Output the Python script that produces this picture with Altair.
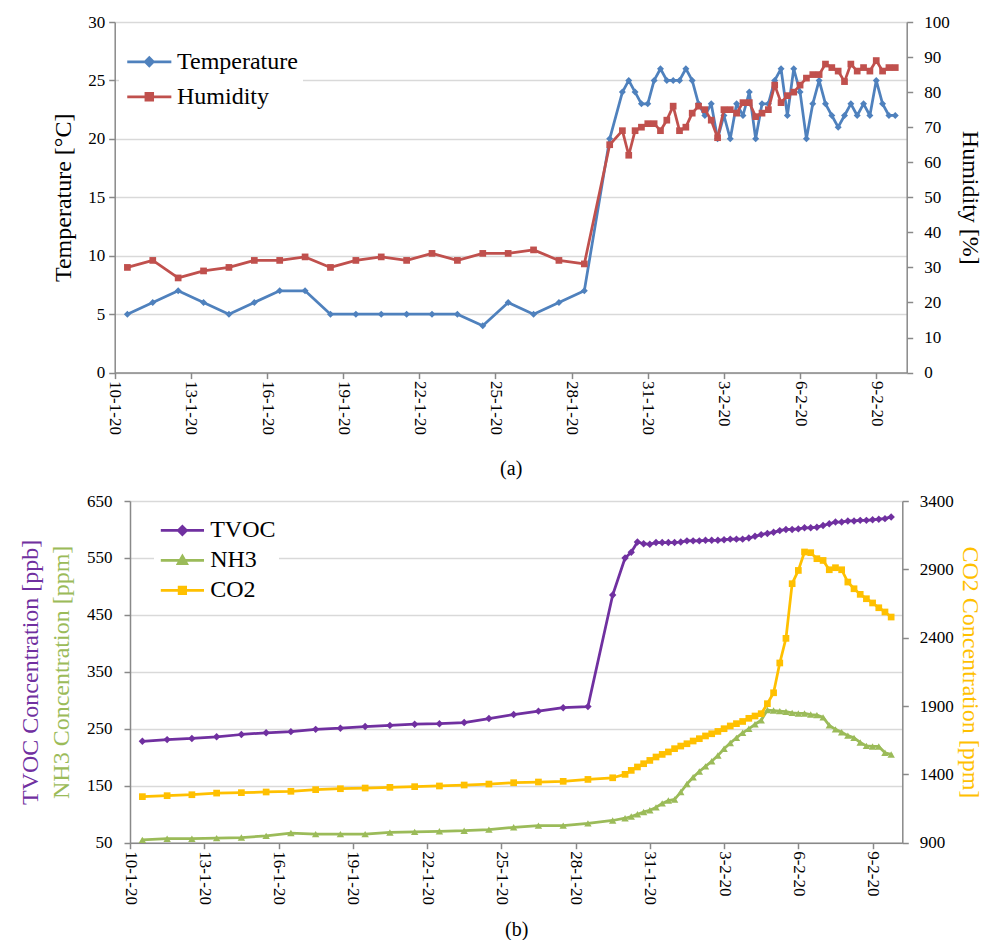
import altair as alt
import pandas as pd

# ---------------- data ----------------
tick_days = [0, 3, 6, 9, 12, 15, 18, 21, 24, 27, 30]
tick_labels = ["10-1-20", "13-1-20", "16-1-20", "19-1-20", "22-1-20", "25-1-20",
               "28-1-20", "31-1-20", "3-2-20", "6-2-20", "9-2-20"]

# sampling times: daily at noon 10-1 .. 28-1, then 29-1 12:00, then every 6 h from 30-1
early_times = list(pd.date_range("2020-01-10 12:00", periods=19, freq="D"))
late_times = [pd.Timestamp("2020-01-29 12:00")] + list(pd.date_range("2020-01-30 00:00", periods=44, freq="6h"))
t0 = pd.Timestamp("2020-01-10")
days = [(t - t0) / pd.Timedelta(days=1) for t in early_times + late_times]

temperature_early = [5, 6, 7, 6, 5, 6, 7, 7, 5, 5, 5, 5, 5, 5, 4, 6, 5, 6, 7]
temperature_late = [20, 24, 25, 24, 23, 23, 25, 26, 25, 25, 25, 26, 25, 23, 22, 23, 20, 22, 20, 23,
                    22, 24, 20, 23, 23, 25, 26, 22, 26, 24, 20, 23, 25, 23, 22, 21, 22, 23, 22, 23,
                    22, 25, 23, 22, 22]
humidity_early = [30, 32, 27, 29, 30, 32, 32, 33, 30, 32, 33, 32, 34, 32, 34, 34, 35, 32, 31]
humidity_late = [65, 69, 62, 69, 70, 71, 71, 69, 72, 76, 69, 70, 74, 76, 75, 72, 67, 75, 75, 74,
                 77, 77, 73, 74, 75, 82, 77, 79, 80, 82, 84, 85, 85, 88, 87, 86, 83, 88, 86, 87,
                 86, 89, 86, 87, 87]

tvoc_early = [228, 231, 233, 236, 240, 243, 245, 249, 251, 254, 256, 258, 259, 261, 268, 275, 281, 287, 289]
tvoc_late = [485, 550, 560, 578, 575, 574, 577, 577, 577, 577, 578, 580, 580, 580, 581, 581, 581, 582,
             583, 583, 583, 585, 588, 591, 593, 595, 598, 600, 600, 601, 603, 603, 604, 607, 610, 613,
             613, 615, 615, 616, 616, 617, 618, 619, 622]
nh3_early = [55, 57, 57, 58, 59, 62, 67, 65, 65, 65, 68, 69, 70, 71, 73, 77, 80, 80, 84]
nh3_late = [89, 93, 96, 100, 104, 107, 112, 119, 124, 126, 139, 153, 165, 175, 184, 193, 203, 215,
            225, 234, 243, 250, 258, 265, 283, 282, 281, 280, 278, 277, 277, 275, 274, 270, 256, 249,
            244, 238, 234, 226, 220, 219, 219, 208, 205]
co2_early = [1237, 1244, 1251, 1263, 1266, 1271, 1276, 1288, 1295, 1300, 1305, 1310, 1315, 1322,
             1329, 1339, 1344, 1349, 1363]
co2_late = [1375, 1400, 1429, 1454, 1478, 1502, 1527, 1546, 1564, 1588, 1607, 1624, 1644, 1661, 1681,
            1697, 1714, 1734, 1754, 1771, 1787, 1810, 1827, 1844, 1917, 1997, 2215, 2395, 2795, 2892,
            3027, 3022, 2978, 2965, 2897, 2912, 2897, 2807, 2758, 2717, 2685, 2654, 2619, 2588, 2551]

top_df = pd.DataFrame({"day": days,
                       "Temperature": temperature_early + temperature_late,
                       "Humidity": humidity_early + humidity_late})
bot_df = pd.DataFrame({"day": days,
                       "TVOC": tvoc_early + tvoc_late,
                       "NH3": nh3_early + nh3_late,
                       "CO2": co2_early + co2_late})

top_series = ["Temperature", "Humidity"]
bot_series = ["TVOC", "NH3", "CO2"]

# ---------------- style ----------------
FONT = "Liberation Serif"
AXC = "#898989"
GRID = "#D9D9D9"
C_T, C_H = "#4F81BD", "#C0504D"
C_TV, C_NH, C_CO = "#7030A0", "#9BBB59", "#FFC000"
LW = 2.75

label_expr = "[" + ",".join("'%s'" % s for s in tick_labels) + "][round(datum.value/3)]"


def x_axis(title, title_y):
    return alt.Axis(values=tick_days, labelExpr=label_expr, labelAngle=90, title=title,
                    grid=False, tickSize=6, labelPadding=2, titleY=title_y,
                    titleFontSize=20)


def series_layer(base, field, color, shape, size, x, y_scale, axis):
    return base.mark_line(
        color=color, strokeWidth=LW, strokeJoin="round", strokeCap="round",
        point=alt.OverlayMarkDef(shape=shape, size=size, filled=True, color=color, opacity=1),
    ).encode(x=x, y=alt.Y(field + ":Q", scale=y_scale, axis=axis))


def legend_layer(field, series, colors, paths, size, lx, ly, pad, soff, loff):
    leg = alt.Legend(title=None, orient="none", legendX=lx, legendY=ly, fillColor="white",
                     padding=pad, symbolSize=size, symbolStrokeWidth=LW, symbolOffset=soff,
                     labelOffset=loff, labelFont=FONT, labelFontSize=24, labelColor="black",
                     rowPadding=0, symbolOpacity=1)
    return alt.Chart(pd.DataFrame({field: series})).mark_point(filled=True, opacity=1).encode(
        fill=alt.Fill(field + ":N", scale=alt.Scale(domain=series, range=colors), legend=leg),
        stroke=alt.Stroke(field + ":N", scale=alt.Scale(domain=series, range=colors), legend=leg),
        shape=alt.Shape(field + ":N", scale=alt.Scale(domain=series, range=paths), legend=leg),
        x=alt.value(0), y=alt.value(0),
    ).transform_filter("false")


# ---------------- top chart ----------------
x_top = alt.X("day:Q", scale=alt.Scale(domain=[0, 31.2], range=[-15.3, 776.7], nice=False, zero=False),
              axis=x_axis("(a)", 86))
tb = alt.Chart(top_df)
temp = series_layer(tb, "Temperature", C_T, "diamond", 49, x_top,
                    alt.Scale(domain=[0, 30], nice=False),
                    alt.Axis(values=[0, 5, 10, 15, 20, 25, 30], title="Temperature [°C]", offset=15.3,
                             grid=True, titleX=-39.7, labelPadding=4))
hum = series_layer(tb, "Humidity", C_H, "square", 45, x_top,
                   alt.Scale(domain=[0, 100], nice=False),
                   alt.Axis(values=list(range(0, 101, 10)), orient="right", title="Humidity [%]",
                            grid=False, titleX=51, labelPadding=11))
top_paths = ["M-1.05,0L1.05,0M0,-0.19L0.19,0L0,0.19L-0.19,0Z",
             "M-1.05,0L1.05,0M-0.16,-0.16L0.16,-0.16L0.16,0.16L-0.16,0.16Z"]
leg_top = legend_layer("series_a", top_series, [C_T, C_H], top_paths, 1764, -11, 12.3, 5, 2.8, 5.2)
top = alt.layer(temp, hum, leg_top).resolve_scale(y="independent").properties(width=776.7, height=350.6)

# ---------------- bottom chart ----------------
x_bot = alt.X("day:Q", scale=alt.Scale(domain=[0, 31.2], nice=False, zero=False), axis=x_axis("(b)", 77))
bb = alt.Chart(bot_df)
left_scale = alt.Scale(domain=[50, 650], nice=False)
co2_scale = alt.Scale(domain=[900, 3400], nice=False)
tvoc = series_layer(bb, "TVOC", C_TV, "diamond", 55, x_bot, left_scale,
                    alt.Axis(values=list(range(50, 651, 100)), title="TVOC Concentration [ppb]",
                             titleColor=C_TV, titleX=-88, grid=True, labelPadding=12))
nh3 = series_layer(bb, "NH3", C_NH, "triangle-up", 55, x_bot, alt.Scale(domain=[50, 650], nice=False),
                   alt.Axis(orient="left", title="NH3 Concentration [ppm]", titleColor=C_NH, titleX=-57,
                            labels=False, ticks=False, domain=False, grid=False))
co2 = series_layer(bb, "CO2", C_CO, "square", 45, x_bot, co2_scale,
                   alt.Axis(values=list(range(900, 3401, 500)), orient="right", format="d",
                            title="CO2 Concentration [ppm]", titleColor=C_CO, titleX=55,
                            grid=False, labelPadding=11))
bot_paths = ["M-1.33,0L1.33,0M0,-0.25L0.25,0L0,0.25L-0.25,0Z",
             "M-1.33,0L1.33,0M0,-0.26L0.26,0.2L-0.26,0.2Z",
             "M-1.33,0L1.33,0M-0.2,-0.2L0.2,-0.2L0.2,0.2L-0.2,0.2Z"]
leg_bot = legend_layer("series_b", bot_series, [C_TV, C_NH, C_CO], bot_paths, 1056, 24, 8.45, 3, 7.4, 9.8)
bottom = alt.layer(tvoc, nh3, co2, leg_bot).resolve_scale(y="independent").properties(width=772.3, height=341.7)

chart = alt.vconcat(top, bottom, spacing=13).resolve_scale(
    fill="independent", stroke="independent", shape="independent"
).properties(
    padding={"left": 17, "top": 13, "right": 0, "bottom": 0}
).configure_axis(
    labelFont=FONT, labelFontSize=17, labelColor="black",
    titleFont=FONT, titleFontSize=24, titleColor="black", titleFontWeight="normal",
    domainColor=AXC, domainWidth=1.5, tickColor=AXC, tickWidth=1.5, tickSize=6,
    gridColor=GRID, gridWidth=1.3,
).configure_view(stroke=None)

chart.save("out.html", embed_options={"renderer": "svg", "actions": False})
